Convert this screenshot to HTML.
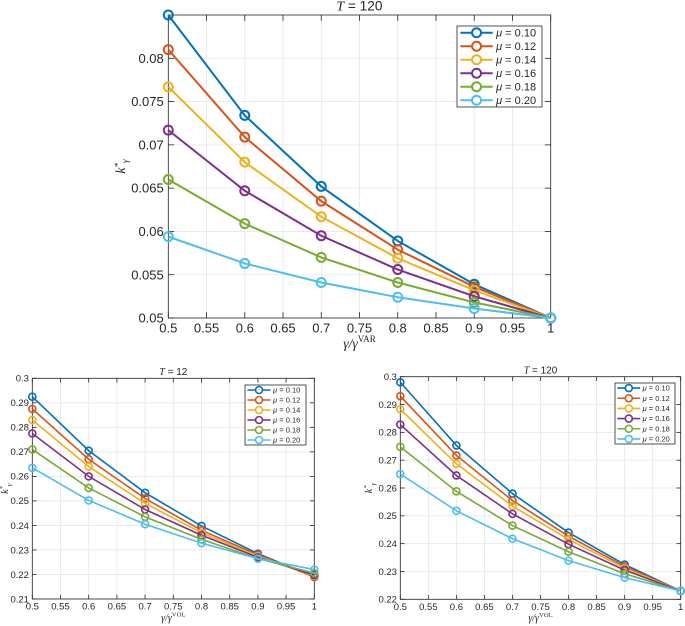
<!DOCTYPE html>
<html><head><meta charset="utf-8"><style>
body{margin:0;background:#fff;}
svg{display:block;}
text{font-family:"Liberation Sans",sans-serif;fill:#262626;}
.it{font-family:"Liberation Serif",serif;font-style:italic;}
</style></head><body>
<svg id="fig" width="685" height="626" xmlns="http://www.w3.org/2000/svg"></svg>
<script>
const xCats = [0.5, 0.6, 0.7, 0.8, 0.9, 1.0];
const muLabels = ["0.10","0.12","0.14","0.16","0.18","0.20"];
const colors = ["#0072BD","#D95319","#EDB120","#7E2F8E","#77AC30","#4DBEEE"];
const xTicks = [0.5,0.55,0.6,0.65,0.7,0.75,0.8,0.85,0.9,0.95,1];
const topYTicks = [0.05,0.055,0.06,0.065,0.07,0.075,0.08];
const topSeries = [
 [0.085,0.0734,0.0652,0.0589,0.0539,0.05],
 [0.081,0.0709,0.0635,0.0579,0.0536,0.05],
 [0.0767,0.068,0.0617,0.0569,0.0532,0.05],
 [0.0717,0.0647,0.0595,0.0556,0.0525,0.05],
 [0.066,0.0609,0.057,0.0541,0.0518,0.05],
 [0.0594,0.0563,0.0541,0.0524,0.0511,0.05]];
const blYTicks = [0.21,0.22,0.23,0.24,0.25,0.26,0.27,0.28,0.29,0.3];
const blSeries = [
 [0.2925,0.2705,0.2533,0.2398,0.2285,0.219],
 [0.2875,0.267,0.251,0.238,0.228,0.219],
 [0.283,0.264,0.249,0.237,0.2275,0.2195],
 [0.2775,0.26,0.2465,0.236,0.227,0.2198],
 [0.271,0.2553,0.2435,0.2343,0.2265,0.2205],
 [0.2635,0.2502,0.2405,0.2328,0.2265,0.222]];
const brYTicks = [0.22,0.23,0.24,0.25,0.26,0.27,0.28,0.29,0.3];
const brSeries = [
 [0.298,0.2753,0.258,0.244,0.2325,0.223],
 [0.293,0.2717,0.2555,0.2427,0.2318,0.223],
 [0.2883,0.2687,0.2535,0.2415,0.2312,0.223],
 [0.2828,0.2645,0.2507,0.2398,0.2305,0.223],
 [0.2748,0.2588,0.2465,0.2371,0.2292,0.223],
 [0.265,0.2518,0.2418,0.2339,0.2278,0.223]];

const NS="http://www.w3.org/2000/svg";
const svg=document.getElementById('fig');
function mk(tag,attrs,parent){const e=document.createElementNS(NS,tag);for(const k in attrs)e.setAttribute(k,attrs[k]);(parent||svg).appendChild(e);return e;}

function panel(o){
 const g=mk('g',{});
 
 
 const xs=v=>o.x0+(v-0.5)/0.5*(o.x1-o.x0);
 const ys=v=>o.y0-(v-o.ymin)/(o.ymax-o.ymin)*(o.y0-o.y1);
 // grid
 xTicks.forEach(t=>{mk('line',{x1:xs(t),x2:xs(t),y1:o.y1,y2:o.y0,stroke:'#e6e6e6','stroke-width':0.8},g);});
 o.yTicks.forEach(t=>{mk('line',{x1:o.x0,x2:o.x1,y1:ys(t),y2:ys(t),stroke:'#e6e6e6','stroke-width':0.8},g);});
 const box=mk('rect',{x:o.x0,y:o.y1,width:o.x1-o.x0,height:o.y0-o.y1,fill:'none',stroke:'#262626','stroke-width':0.8},g);
 
 
 const tl=o.fs*0.45;
 xTicks.forEach(t=>{
  mk('line',{x1:xs(t),x2:xs(t),y1:o.y0,y2:o.y0-tl,stroke:'#262626','stroke-width':0.8},g);
  mk('line',{x1:xs(t),x2:xs(t),y1:o.y1,y2:o.y1+tl,stroke:'#262626','stroke-width':0.8},g);
  const tx=mk('text',{x:xs(t),y:o.y0+o.fs*1.1,'text-anchor':'middle','font-size':o.fs},g);
  tx.textContent=String(t);
  
  
 });
 o.yTicks.forEach(t=>{
  mk('line',{x1:o.x0,x2:o.x0+tl,y1:ys(t),y2:ys(t),stroke:'#262626','stroke-width':0.8},g);
  mk('line',{x1:o.x1,x2:o.x1-tl,y1:ys(t),y2:ys(t),stroke:'#262626','stroke-width':0.8},g);
  const tx=mk('text',{x:o.x0-o.fs*0.35,y:ys(t)+o.fs*0.35,'text-anchor':'end','font-size':o.fs},g);
  tx.textContent=String(+t.toFixed(3));
  
  
 });
 // title
 const ti=mk('text',{x:(o.x0+o.x1)/2,y:o.y1-o.fs*0.35,'text-anchor':'middle','font-size':o.fs*1.05},g);
 ti.innerHTML='<tspan class="it">T</tspan> = '+o.T;
 
 
 // x label
 const xl=mk('text',{x:(o.x0+o.x1)/2,y:o.y0+o.fs*2.3,'text-anchor':'middle','font-size':o.fs*1.05,'class':'it'},g);
 xl.innerHTML='γ/γ<tspan dy="-'+o.fs*0.45+'" font-size="'+o.fs*0.7+'" font-style="normal">'+o.sup+'</tspan>';
 
 
 // y label
 const yl=mk('text',{x:0,y:0,'text-anchor':'middle','font-size':o.fs*1.05,'class':'it',transform:'translate('+(o.ylx)+','+((o.y0+o.y1)/2)+') rotate(-90)'},g);
 yl.innerHTML='k<tspan dy="-4" font-size="'+o.fs*0.7+'">*</tspan><tspan dy="7" font-size="'+o.fs*0.7+'">γ</tspan>';
 
 
 // series
 o.series.forEach((s,i)=>{
  const sg=mk('g',{},g);
  
  
  mk('polyline',{points:s.map((v,j)=>xs(xCats[j])+','+ys(v)).join(' '),fill:'none',stroke:colors[i],'stroke-width':o.lw},sg);
  s.forEach((v,j)=>{
   const c=mk('circle',{cx:xs(xCats[j]),cy:ys(v),r:o.r,fill:'none',stroke:colors[i],'stroke-width':o.lw},sg);
   
   
  });
 });
 // legend
 const L=o.leg;
 const lg=mk('g',{},g);
 
 
 mk('rect',{x:L.x,y:L.y,width:L.w,height:L.h,fill:'#fff',stroke:'#262626','stroke-width':0.8},lg);
 const rh=L.h/6;
 muLabels.forEach((m,i)=>{
  const cy=L.y+rh*(i+0.5);
  const e=mk('g',{},lg);
  
  
  mk('line',{x1:L.x+L.w*0.04,x2:L.x+L.w*0.42,y1:cy,y2:cy,stroke:colors[i],'stroke-width':o.lw},e);
  mk('circle',{cx:L.x+L.w*0.23,cy:cy,r:o.r,fill:'#fff',stroke:colors[i],'stroke-width':o.lw},e);
  const t=mk('text',{x:L.x+L.w*0.46,y:cy+L.fs*0.35,'font-size':L.fs,'font-family':'Liberation Serif'},e);
  t.innerHTML='<tspan font-style="italic">μ</tspan> = '+m;
 });
}
panel({name:'top-chart',x0:168.3,x1:550.7,y0:318,y1:15,ymin:0.05,ymax:0.085,yTicks:topYTicks,series:topSeries,fs:13,lw:2,r:4.5,T:'120',sup:'VAR',ylx:125,leg:{x:457,y:26,w:85,h:81,fs:11}});
panel({name:'bottom-left-chart',x0:32.3,x1:314.3,y0:599,y1:378.3,ymin:0.21,ymax:0.3,yTicks:blYTicks,series:blSeries,fs:9.5,lw:1.6,r:3.5,T:'12',sup:'VOL',ylx:8,leg:{x:245,y:385,w:61,h:60,fs:7.5}});
panel({name:'bottom-right-chart',x0:400.3,x1:680.7,y0:599.3,y1:376.7,ymin:0.22,ymax:0.3,yTicks:brYTicks,series:brSeries,fs:9.5,lw:1.6,r:3.5,T:'120',sup:'VOL',ylx:372,leg:{x:615,y:383,w:60,h:61,fs:7.5}});
</script>
</body></html>
